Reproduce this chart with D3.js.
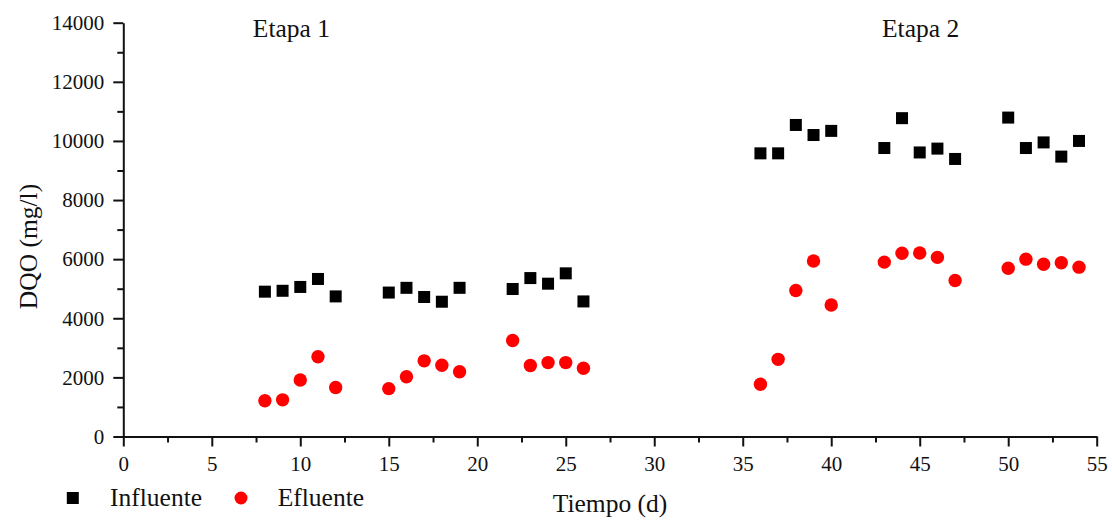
<!DOCTYPE html>
<html>
<head>
<meta charset="utf-8">
<script src="https://cdn.jsdelivr.net/npm/d3@7"></script>
<style>
  html, body { margin: 0; padding: 0; background: #fff; }
  svg { display: block; }
  text { font-family: "Liberation Serif", "Times New Roman", serif; fill: #111; }
</style>
</head>
<body>
<svg id="chart" width="1112" height="521"></svg>
<script>
// Sampling days
const days = [8, 9, 10, 11, 12, 15, 16, 17, 18, 19, 22, 23, 24, 25, 26,
              36, 37, 38, 39, 40, 43, 44, 45, 46, 47, 50, 51, 52, 53, 54];

// DQO of the influent (mg/l)
const influente = [4900, 4930, 5060, 5330, 4740, 4870, 5030, 4720, 4560, 5030,
                   4990, 5360, 5170, 5520, 4570,
                   9580, 9580, 10540, 10200, 10340, 9760, 10770, 9610, 9740, 9390,
                   10790, 9760, 9950, 9470, 10000];

// DQO of the effluent (mg/l)
const efluente = [1210, 1240, 1910, 2700, 1660, 1620, 2020, 2560, 2410, 2190,
                  3250, 2400, 2500, 2500, 2310,
                  1770, 2610, 4940, 5940, 4450, 5900, 6200, 6210, 6060, 5280,
                  5690, 6000, 5830, 5880, 5730];

const xTicks = [0, 5, 10, 15, 20, 25, 30, 35, 40, 45, 50, 55];
const xMinor = [2.5, 7.5, 12.5, 17.5, 22.5, 27.5, 32.5, 37.5, 42.5, 47.5, 52.5];
const yTicks = [0, 2000, 4000, 6000, 8000, 10000, 12000, 14000];
const yMinor = [1000, 3000, 5000, 7000, 9000, 11000, 13000];

// stage captions, centred on a day of the time axis
const stages = [{ label: "Etapa 1", day: 9.5 }, { label: "Etapa 2", day: 45.05 }];

const svg = d3.select("#chart");

const x = d3.scaleLinear().domain([0, 55]).range([123.3, 1096.7]);
const y = d3.scaleLinear().domain([0, 14000]).range([436.5, 22.7]);

const x0 = x(0), y0 = y(0);

// minor ticks
svg.append("g")
  .attr("transform", `translate(0,${y0})`)
  .call(d3.axisBottom(x).tickValues(xMinor).tickSize(6).tickSizeOuter(0).tickFormat(""))
  .call(g => g.select(".domain").remove())
  .call(g => g.selectAll("line").attr("stroke", "#111").attr("stroke-width", 2));

svg.append("g")
  .attr("transform", `translate(${x0},0)`)
  .call(d3.axisLeft(y).tickValues(yMinor).tickSize(6).tickSizeOuter(0).tickFormat(""))
  .call(g => g.select(".domain").remove())
  .call(g => g.selectAll("line").attr("stroke", "#111").attr("stroke-width", 2));

// major axes
svg.append("g")
  .attr("transform", `translate(0,${y0})`)
  .call(d3.axisBottom(x).tickValues(xTicks).tickSize(10).tickSizeOuter(0).tickPadding(10).tickFormat(d3.format("d")))
  .call(g => g.select(".domain").attr("stroke", "#111").attr("stroke-width", 2))
  .call(g => g.selectAll("line").attr("stroke", "#111").attr("stroke-width", 2))
  .call(g => g.selectAll("text").attr("font-size", 21).attr("fill", "#111")
    .style("font-family", "'Liberation Serif', 'Times New Roman', serif"));

svg.append("g")
  .attr("transform", `translate(${x0},0)`)
  .call(d3.axisLeft(y).tickValues(yTicks).tickSize(10).tickSizeOuter(0).tickPadding(9).tickFormat(d3.format("d")))
  .call(g => g.select(".domain").attr("stroke", "#111").attr("stroke-width", 2))
  .call(g => g.selectAll("line").attr("stroke", "#111").attr("stroke-width", 2))
  .call(g => g.selectAll("text").attr("font-size", 21).attr("fill", "#111")
    .style("font-family", "'Liberation Serif', 'Times New Roman', serif"));

// influent squares
const sq = 12;
svg.append("g").selectAll("rect")
  .data(days.map((d, i) => [d, influente[i]]))
  .join("rect")
  .attr("x", d => x(d[0]) - sq / 2)
  .attr("y", d => y(d[1]) - sq / 2)
  .attr("width", sq).attr("height", sq)
  .attr("fill", "#000");

// effluent circles
svg.append("g").selectAll("circle")
  .data(days.map((d, i) => [d, efluente[i]]))
  .join("circle")
  .attr("cx", d => x(d[0]))
  .attr("cy", d => y(d[1]))
  .attr("r", 6.7)
  .attr("fill", "#ff0000");

// stage labels
svg.append("g").selectAll("text")
  .data(stages)
  .join("text")
  .attr("x", d => x(d.day))
  .attr("y", 37)
  .attr("text-anchor", "middle")
  .attr("font-size", 25.5)
  .text(d => d.label);

// axis titles
svg.append("text")
  .attr("x", 610).attr("y", 512)
  .attr("text-anchor", "middle")
  .attr("font-size", 25.5)
  .text("Tiempo (d)");

svg.append("text")
  .attr("transform", "translate(36.5,246.5) rotate(-90)")
  .attr("text-anchor", "middle")
  .attr("font-size", 25.5)
  .text("DQO (mg/l)");

// legend
const legend = svg.append("g");
legend.append("rect").attr("x", 72.8 - sq / 2).attr("y", 498 - sq / 2)
  .attr("width", sq).attr("height", sq).attr("fill", "#000");
legend.append("text").attr("x", 110).attr("y", 506).attr("font-size", 25.5).text("Influente");
legend.append("circle").attr("cx", 241).attr("cy", 498).attr("r", 6.5).attr("fill", "#ff0000");
legend.append("text").attr("x", 277.7).attr("y", 506).attr("font-size", 25.5).text("Efluente");
</script>
</body>
</html>
